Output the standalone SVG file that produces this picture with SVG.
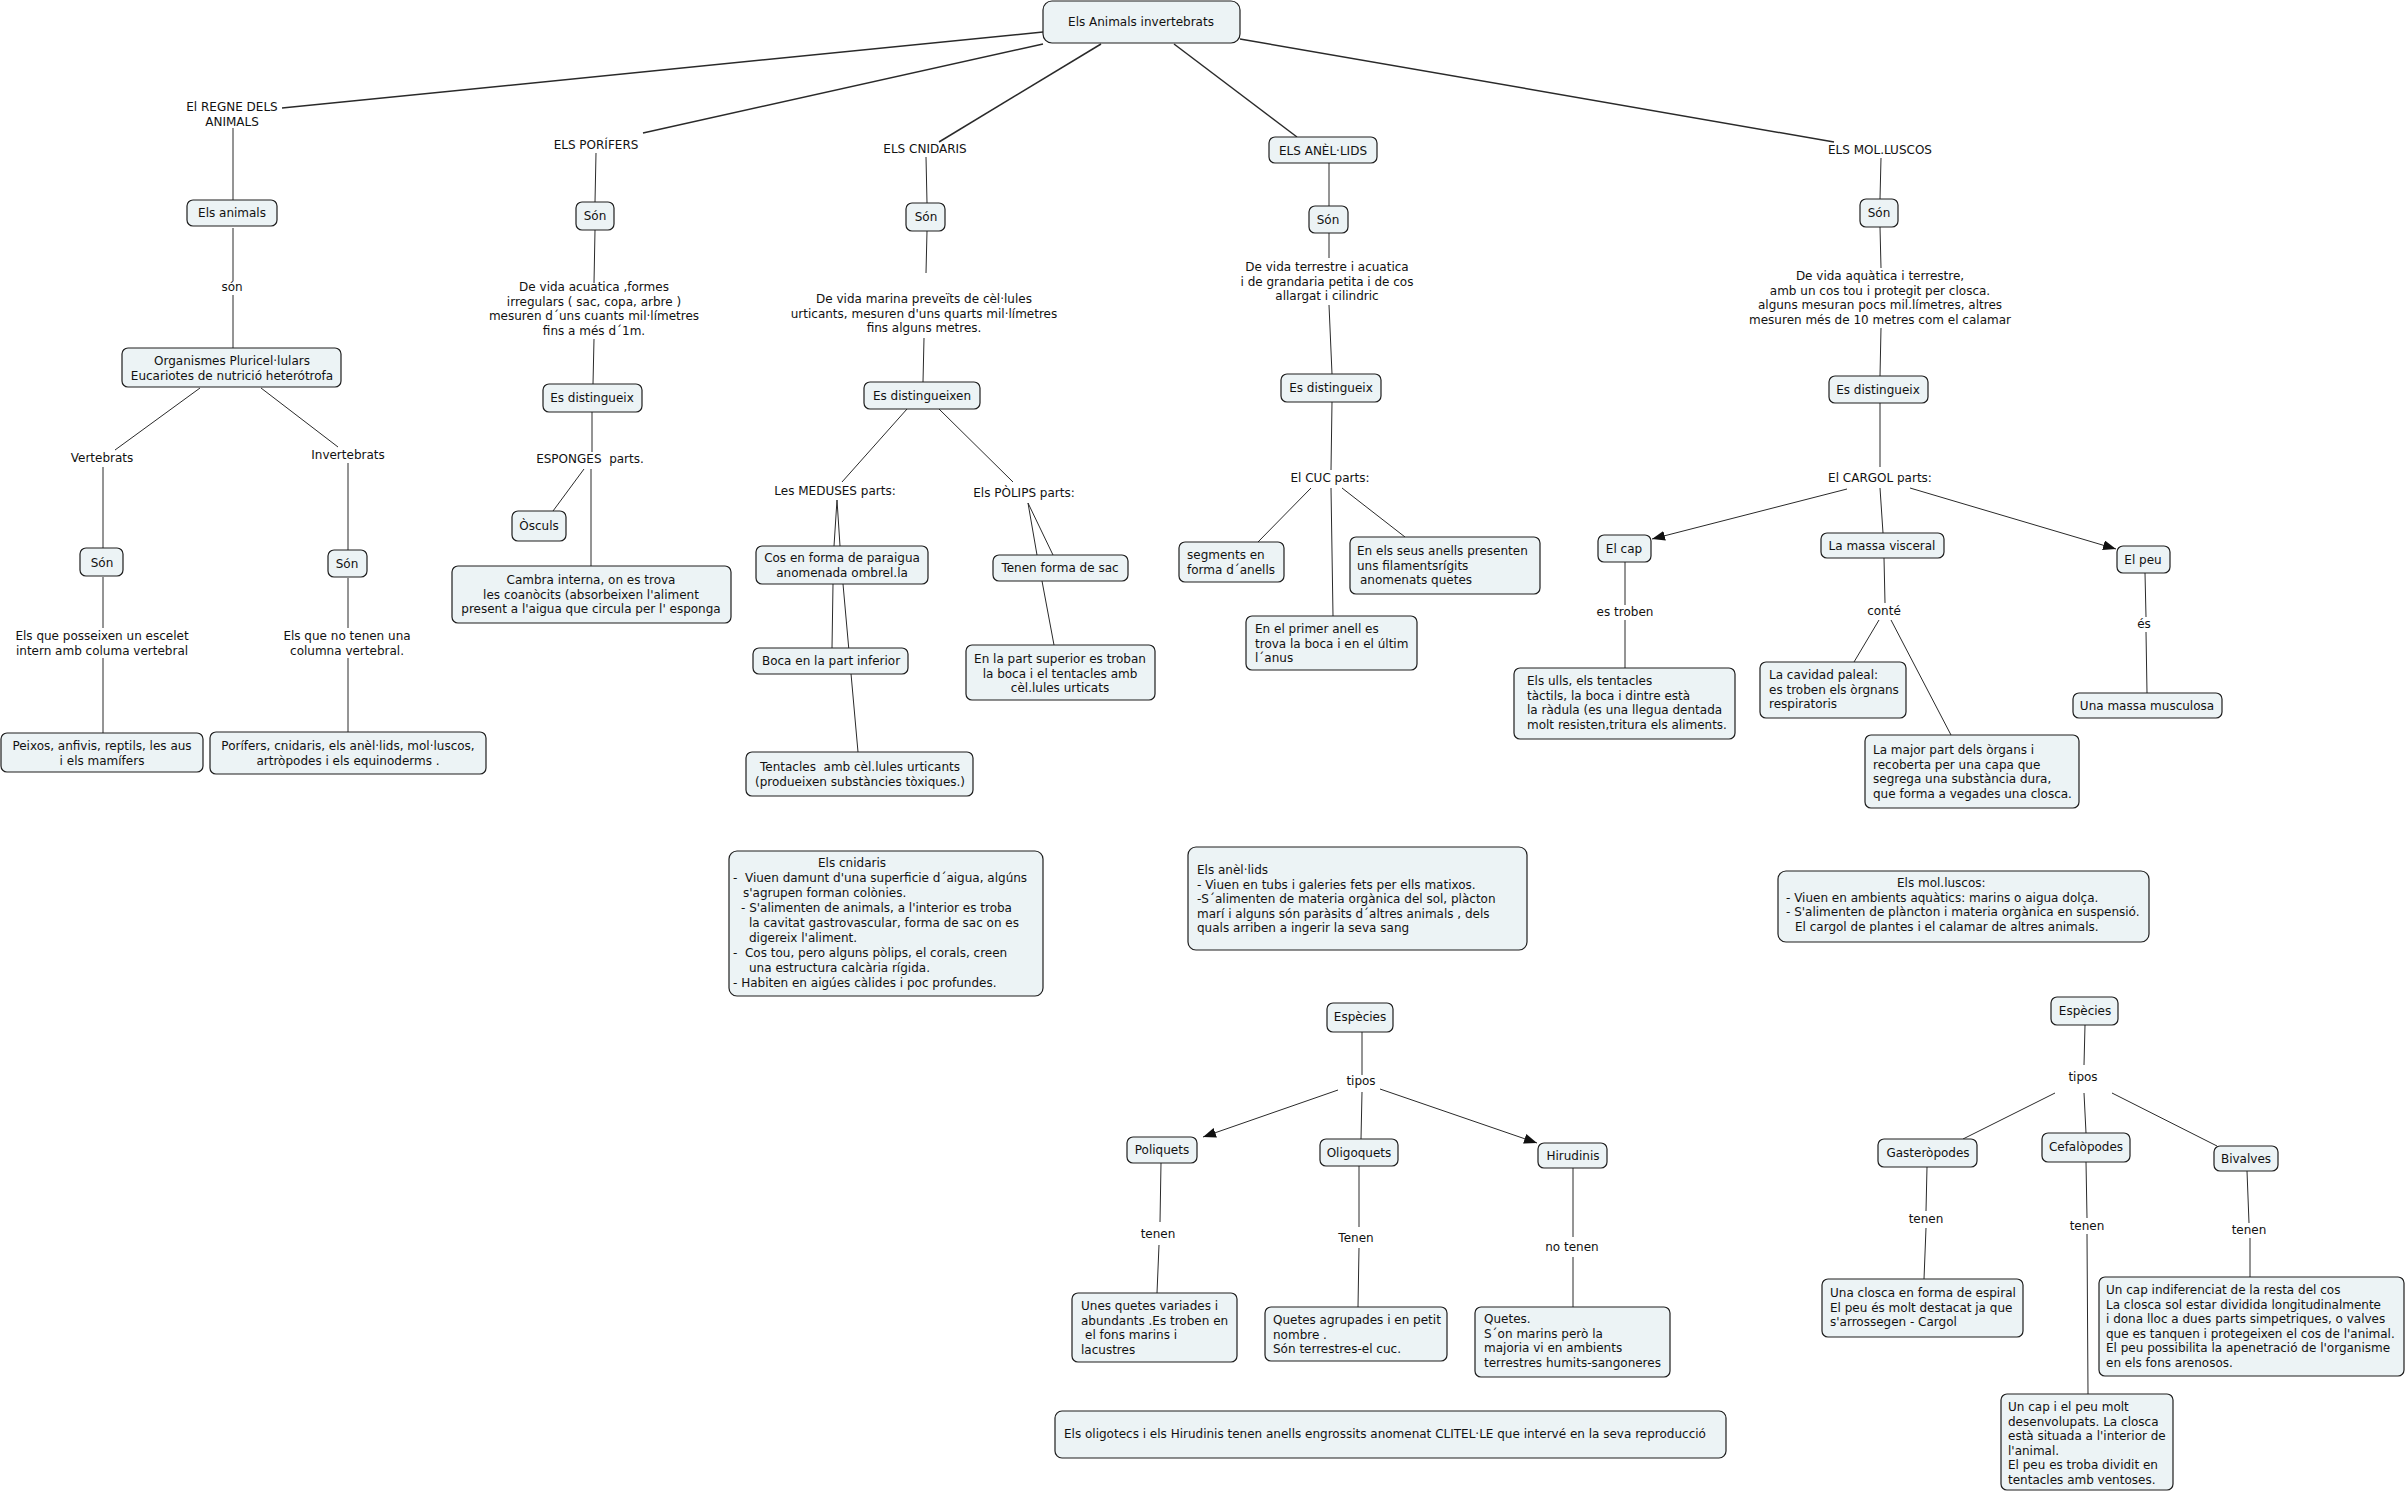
<svg xmlns="http://www.w3.org/2000/svg" width="2406" height="1495" viewBox="0 0 2406 1495">
<style>
.bg{fill:#ffffff}
.n rect{fill:#ecf3f5;stroke:#1e1e1e;stroke-width:1.2}
.t{font-family:"DejaVu Sans",Verdana,sans-serif;font-size:12px;fill:#111}
.c{text-anchor:middle}
#edges line{stroke:#2a2a2a;stroke-width:1}
#edges line.k{stroke-width:1.5}
#edges line.a{marker-end:url(#arr)}
</style>
<defs>
<marker id="arr" markerUnits="userSpaceOnUse" markerWidth="14" markerHeight="11" refX="13" refY="5" orient="auto">
<path d="M0,0 L13,5 L0,10 z" fill="#111"/>
</marker>
</defs>
<rect class="bg" x="0" y="0" width="2406" height="1495"/>
<g id="edges">
<line class="k" x1="1043" y1="32" x2="282" y2="108"/>
<line x1="233" y1="128" x2="233" y2="200"/>
<line x1="233" y1="228" x2="233" y2="281"/>
<line x1="233" y1="295" x2="233" y2="348"/>
<line x1="200" y1="388" x2="115" y2="450"/>
<line x1="261" y1="388" x2="338" y2="447"/>
<line x1="103" y1="467" x2="103" y2="548"/>
<line x1="103" y1="577" x2="103" y2="628"/>
<line x1="103" y1="658" x2="103" y2="733"/>
<line x1="348" y1="463" x2="348" y2="550"/>
<line x1="348" y1="578" x2="348" y2="628"/>
<line x1="348" y1="658" x2="348" y2="732"/>
<line class="k" x1="1043" y1="44" x2="643" y2="133"/>
<line x1="596" y1="153" x2="595" y2="202"/>
<line x1="595" y1="230" x2="594" y2="283"/>
<line x1="594" y1="339" x2="593" y2="384"/>
<line x1="592" y1="412" x2="592" y2="452"/>
<line x1="584" y1="469" x2="553" y2="511"/>
<line x1="591" y1="469" x2="591" y2="566"/>
<line class="k" x1="1101" y1="44" x2="939" y2="142"/>
<line x1="926" y1="157" x2="927" y2="203"/>
<line x1="927" y1="231" x2="926" y2="273"/>
<line x1="924" y1="338" x2="923" y2="382"/>
<line x1="907" y1="409" x2="842" y2="482"/>
<line x1="939" y1="409" x2="1013" y2="482"/>
<line x1="837" y1="500" x2="834" y2="546"/>
<line x1="837" y1="500" x2="840" y2="546"/>
<line x1="833" y1="584" x2="832" y2="648"/>
<line x1="843" y1="584" x2="858" y2="752"/>
<line x1="1028" y1="503" x2="1037" y2="555"/>
<line x1="1028" y1="503" x2="1053" y2="555"/>
<line x1="1042" y1="581" x2="1054" y2="645"/>
<line class="k" x1="1174" y1="44" x2="1297" y2="137"/>
<line x1="1329" y1="163" x2="1329" y2="206"/>
<line x1="1329" y1="233" x2="1329" y2="258"/>
<line x1="1329" y1="305" x2="1332" y2="374"/>
<line x1="1332" y1="402" x2="1331" y2="470"/>
<line x1="1311" y1="488" x2="1258" y2="542"/>
<line x1="1331" y1="488" x2="1333" y2="616"/>
<line x1="1342" y1="488" x2="1405" y2="537"/>
<line class="k" x1="1240" y1="39" x2="1834" y2="142"/>
<line x1="1881" y1="158" x2="1880" y2="199"/>
<line x1="1880" y1="227" x2="1881" y2="268"/>
<line x1="1881" y1="328" x2="1880" y2="376"/>
<line x1="1880" y1="403" x2="1880" y2="467"/>
<line class="a" x1="1847" y1="489" x2="1652" y2="539"/>
<line x1="1880" y1="488" x2="1883" y2="533"/>
<line class="a" x1="1910" y1="488" x2="2116" y2="549"/>
<line x1="1625" y1="562" x2="1625" y2="605"/>
<line x1="1625" y1="620" x2="1625" y2="668"/>
<line x1="1884" y1="558" x2="1885" y2="603"/>
<line x1="1879" y1="620" x2="1854" y2="662"/>
<line x1="1891" y1="620" x2="1951" y2="735"/>
<line x1="2145" y1="573" x2="2146" y2="617"/>
<line x1="2146" y1="632" x2="2147" y2="693"/>
<line x1="1362" y1="1032" x2="1362" y2="1075"/>
<line class="a" x1="1338" y1="1090" x2="1203" y2="1137"/>
<line x1="1362" y1="1092" x2="1361" y2="1139"/>
<line class="a" x1="1380" y1="1089" x2="1537" y2="1143"/>
<line x1="1161" y1="1163" x2="1160" y2="1222"/>
<line x1="1159" y1="1245" x2="1157" y2="1293"/>
<line x1="1359" y1="1166" x2="1359" y2="1227"/>
<line x1="1359" y1="1248" x2="1358" y2="1307"/>
<line x1="1573" y1="1168" x2="1573" y2="1237"/>
<line x1="1573" y1="1257" x2="1573" y2="1307"/>
<line x1="2085" y1="1025" x2="2084" y2="1065"/>
<line x1="2055" y1="1093" x2="1963" y2="1139"/>
<line x1="2084" y1="1093" x2="2086" y2="1133"/>
<line x1="2112" y1="1093" x2="2217" y2="1146"/>
<line x1="1927" y1="1167" x2="1926" y2="1211"/>
<line x1="1926" y1="1228" x2="1924" y2="1279"/>
<line x1="2086" y1="1162" x2="2087" y2="1218"/>
<line x1="2087" y1="1234" x2="2088" y2="1394"/>
<line x1="2247" y1="1171" x2="2249" y2="1223"/>
<line x1="2250" y1="1238" x2="2250" y2="1277"/>
</g>

<g id="root" class="n"><rect x="1043" y="1" width="197" height="42" rx="9"/><text class="t c" x="1141" y="26">Els Animals invertebrats</text></g>

<g id="regne"><text class="t c" x="232" y="111">El REGNE DELS<tspan x="232" dy="14.5">ANIMALS</tspan></text></g>
<g id="animals" class="n"><rect x="187" y="200" width="90" height="26" rx="6"/><text class="t c" x="232" y="217">Els animals</text></g>
<g id="son0"><text class="t c" x="232" y="291">són</text></g>
<g id="organismes" class="n"><rect x="122" y="348" width="219" height="39" rx="6"/><text class="t c" x="232" y="365">Organismes Pluricel·lulars<tspan x="232" dy="14.5">Eucariotes de nutrició heterótrofa</tspan></text></g>
<g id="vertebrats"><text class="t c" x="102" y="462">Vertebrats</text></g>
<g id="invertebrats"><text class="t c" x="348" y="459">Invertebrats</text></g>
<g id="sonV" class="n"><rect x="80" y="548" width="43" height="28" rx="6"/><text class="t c" x="102" y="567">Són</text></g>
<g id="sonI" class="n"><rect x="328" y="550" width="39" height="27" rx="6"/><text class="t c" x="347" y="568">Són</text></g>
<g id="vertTxt"><text class="t c" x="102" y="640">Els que posseixen un escelet<tspan x="102" dy="14.5">intern amb columa vertebral</tspan></text></g>
<g id="invTxt"><text class="t c" x="347" y="640">Els que no tenen una<tspan x="347" dy="14.5">columna vertebral.</tspan></text></g>
<g id="peixos" class="n"><rect x="1" y="733" width="202" height="39" rx="6"/><text class="t c" x="102" y="750">Peixos, anfivis, reptils, les aus<tspan x="102" dy="14.5">i els mamífers</tspan></text></g>
<g id="porifersList" class="n"><rect x="210" y="732" width="276" height="42" rx="6"/><text class="t c" x="348" y="750">Porífers, cnidaris, els anèl·lids, mol·luscos,<tspan x="348" dy="14.5">artròpodes i els equinoderms .</tspan></text></g>

<g id="porifers"><text class="t c" x="596" y="149">ELS PORÍFERS</text></g>
<g id="sonP" class="n"><rect x="576" y="202" width="38" height="28" rx="6"/><text class="t c" x="595" y="220">Són</text></g>
<g id="porTxt"><text class="t c" x="594" y="291">De vida acuatica ,formes<tspan x="594" dy="14.5">irregulars ( sac, copa, arbre )</tspan><tspan x="594" dy="14.5">mesuren d´uns cuants mil·límetres</tspan><tspan x="594" dy="14.5">fins a més d´1m.</tspan></text></g>
<g id="esdP" class="n"><rect x="543" y="384" width="99" height="28" rx="6"/><text class="t c" x="592" y="402">Es distingueix</text></g>
<g id="esponges"><text class="t c" x="590" y="463" xml:space="preserve">ESPONGES  parts.</text></g>
<g id="osculs" class="n"><rect x="512" y="511" width="54" height="30" rx="6"/><text class="t c" x="539" y="530">Òsculs</text></g>
<g id="cambra" class="n"><rect x="452" y="566" width="279" height="57" rx="6"/><text class="t c" x="591" y="584">Cambra interna, on es trova<tspan x="591" dy="14.5">les coanòcits (absorbeixen l'aliment</tspan><tspan x="591" dy="14.5">present a l'aigua que circula per l' esponga</tspan></text></g>

<g id="cnidaris"><text class="t c" x="925" y="153">ELS CNIDARIS</text></g>
<g id="sonC" class="n"><rect x="906" y="203" width="39" height="28" rx="6"/><text class="t c" x="926" y="221">Són</text></g>
<g id="cniTxt"><text class="t c" x="924" y="303">De vida marina preveïts de cèl·lules<tspan x="924" dy="14.5">urticants, mesuren d'uns quarts mil·límetres</tspan><tspan x="924" dy="14.5">fins alguns metres.</tspan></text></g>
<g id="esdC" class="n"><rect x="864" y="382" width="116" height="27" rx="6"/><text class="t c" x="922" y="400">Es distingueixen</text></g>
<g id="meduses"><text class="t c" x="835" y="495">Les MEDUSES parts:</text></g>
<g id="polips"><text class="t c" x="1024" y="497">Els PÒLIPS parts:</text></g>
<g id="cos" class="n"><rect x="756" y="546" width="172" height="38" rx="6"/><text class="t c" x="842" y="562">Cos en forma de paraigua<tspan x="842" dy="14.5">anomenada ombrel.la</tspan></text></g>
<g id="boca" class="n"><rect x="753" y="648" width="155" height="26" rx="6"/><text class="t c" x="831" y="665">Boca en la part inferior</text></g>
<g id="tentacles" class="n"><rect x="746" y="752" width="227" height="44" rx="6"/><text class="t c" x="860" y="771" xml:space="preserve">Tentacles  amb cèl.lules urticants<tspan x="860" dy="14.5">(produeixen substàncies tòxiques.)</tspan></text></g>
<g id="sac" class="n"><rect x="993" y="555" width="135" height="26" rx="6"/><text class="t c" x="1060" y="572">Tenen forma de sac</text></g>
<g id="partsup" class="n"><rect x="966" y="645" width="189" height="55" rx="6"/><text class="t c" x="1060" y="663">En la part superior es troban<tspan x="1060" dy="14.5">la boca i el tentacles amb</tspan><tspan x="1060" dy="14.5">cèl.lules urticats</tspan></text></g>

<g id="anellids" class="n"><rect x="1269" y="137" width="108" height="26" rx="6"/><text class="t c" x="1323" y="155">ELS ANÈL·LIDS</text></g>
<g id="sonA" class="n"><rect x="1309" y="206" width="39" height="27" rx="6"/><text class="t c" x="1328" y="224">Són</text></g>
<g id="aneTxt"><text class="t c" x="1327" y="271">De vida terrestre i acuatica<tspan x="1327" dy="14.5">i de grandaria petita i de cos</tspan><tspan x="1327" dy="14.5">allargat i cilindric</tspan></text></g>
<g id="esdA" class="n"><rect x="1281" y="374" width="100" height="28" rx="6"/><text class="t c" x="1331" y="392">Es distingueix</text></g>
<g id="cuc"><text class="t c" x="1330" y="482">El CUC parts:</text></g>
<g id="segments" class="n"><rect x="1179" y="542" width="105" height="40" rx="6"/><text class="t" x="1187" y="559">segments en<tspan x="1187" dy="14.5">forma d´anells</tspan></text></g>
<g id="primer" class="n"><rect x="1246" y="616" width="171" height="54" rx="6"/><text class="t" x="1255" y="633">En el primer anell es<tspan x="1255" dy="14.5">trova la boca i en el últim</tspan><tspan x="1255" dy="14.5">l´anus</tspan></text></g>
<g id="seus" class="n"><rect x="1350" y="537" width="190" height="57" rx="6"/><text class="t" x="1357" y="555">En els seus anells presenten<tspan x="1357" dy="14.5">uns filamentsrígits</tspan><tspan x="1360" dy="14.5">anomenats quetes</tspan></text></g>

<g id="molluscs"><text class="t c" x="1880" y="154">ELS MOL.LUSCOS</text></g>
<g id="sonM" class="n"><rect x="1860" y="199" width="38" height="28" rx="6"/><text class="t c" x="1879" y="217">Són</text></g>
<g id="molTxt"><text class="t c" x="1880" y="280">De vida aquàtica i terrestre,<tspan x="1880" dy="14.5">amb un cos tou i protegit per closca.</tspan><tspan x="1880" dy="14.5">alguns mesuran pocs mil.límetres, altres</tspan><tspan x="1880" dy="14.5">mesuren més de 10 metres com el calamar</tspan></text></g>
<g id="esdM" class="n"><rect x="1829" y="376" width="99" height="27" rx="6"/><text class="t c" x="1878" y="394">Es distingueix</text></g>
<g id="cargol"><text class="t c" x="1880" y="482">El CARGOL parts:</text></g>
<g id="cap" class="n"><rect x="1598" y="535" width="53" height="27" rx="6"/><text class="t c" x="1624" y="553">El cap</text></g>
<g id="visceral" class="n"><rect x="1821" y="533" width="123" height="25" rx="6"/><text class="t c" x="1882" y="550">La massa visceral</text></g>
<g id="peu" class="n"><rect x="2117" y="546" width="53" height="27" rx="6"/><text class="t c" x="2143" y="564">El peu</text></g>
<g id="estroben"><text class="t c" x="1625" y="616">es troben</text></g>
<g id="ulls" class="n"><rect x="1514" y="668" width="221" height="71" rx="6"/><text class="t" x="1527" y="685">Els ulls, els tentacles<tspan x="1527" dy="14.5">tàctils, la boca i dintre està</tspan><tspan x="1527" dy="14.5">la ràdula (es una llegua dentada</tspan><tspan x="1527" dy="14.5">molt resisten,tritura els aliments.</tspan></text></g>
<g id="conte"><text class="t c" x="1884" y="615">conté</text></g>
<g id="paleal" class="n"><rect x="1760" y="662" width="146" height="56" rx="6"/><text class="t" x="1769" y="679">La cavidad paleal:<tspan x="1769" dy="14.5">es troben els òrgnans</tspan><tspan x="1769" dy="14.5">respiratoris</tspan></text></g>
<g id="major" class="n"><rect x="1865" y="735" width="214" height="73" rx="6"/><text class="t" x="1873" y="754">La major part dels òrgans i<tspan x="1873" dy="14.5">recoberta per una capa que</tspan><tspan x="1873" dy="14.5">segrega una substància dura,</tspan><tspan x="1873" dy="14.5">que forma a vegades una closca.</tspan></text></g>
<g id="es"><text class="t c" x="2144" y="628">és</text></g>
<g id="musculosa" class="n"><rect x="2073" y="693" width="149" height="25" rx="6"/><text class="t c" x="2147" y="710">Una massa musculosa</text></g>

<g id="infoCni" class="n"><rect x="729" y="851" width="314" height="145" rx="8"/><text class="t" x="818" y="867" xml:space="preserve">Els cnidaris<tspan x="733" dy="15">-  Viuen damunt d'una superficie d´aigua, algúns</tspan><tspan x="743" dy="15">s'agrupen forman colònies.</tspan><tspan x="741" dy="15">- S'alimenten de animals, a l'interior es troba</tspan><tspan x="749" dy="15">la cavitat gastrovascular, forma de sac on es</tspan><tspan x="749" dy="15">digereix l'aliment.</tspan><tspan x="733" dy="15">-  Cos tou, pero alguns pòlips, el corals, creen</tspan><tspan x="749" dy="15">una estructura calcària rígida.</tspan><tspan x="733" dy="14.5">- Habiten en aigúes càlides i poc profundes.</tspan></text></g>
<g id="infoAne" class="n"><rect x="1188" y="847" width="339" height="103" rx="8"/><text class="t" x="1197" y="874">Els anèl·lids<tspan x="1197" dy="14.6">- Viuen en tubs i galeries fets per ells matixos.</tspan><tspan x="1197" dy="14.6">-S´alimenten de materia orgànica del sol, plàcton</tspan><tspan x="1197" dy="14.6">marí i alguns són paràsits d´altres animals , dels</tspan><tspan x="1197" dy="14.6">quals arriben a ingerir la seva sang</tspan></text></g>
<g id="infoMol" class="n"><rect x="1778" y="871" width="371" height="71" rx="8"/><text class="t" x="1897" y="887">Els mol.luscos:<tspan x="1786" dy="14.7">- Viuen en ambients aquàtics: marins o aigua dolça.</tspan><tspan x="1786" dy="14.7">- S'alimenten de plàncton i materia orgànica en suspensió.</tspan><tspan x="1795" dy="14.7">El cargol de plantes i el calamar de altres animals.</tspan></text></g>

<g id="especiesA" class="n"><rect x="1327" y="1003" width="66" height="29" rx="6"/><text class="t c" x="1360" y="1021">Espècies</text></g>
<g id="tiposA"><text class="t c" x="1361" y="1085">tipos</text></g>
<g id="poliquets" class="n"><rect x="1127" y="1137" width="70" height="26" rx="6"/><text class="t c" x="1162" y="1154">Poliquets</text></g>
<g id="oligoquets" class="n"><rect x="1320" y="1139" width="78" height="27" rx="6"/><text class="t c" x="1359" y="1157">Oligoquets</text></g>
<g id="hirudinis" class="n"><rect x="1538" y="1143" width="69" height="25" rx="6"/><text class="t c" x="1573" y="1160">Hirudinis</text></g>
<g id="tenen1"><text class="t c" x="1158" y="1238">tenen</text></g>
<g id="tenen2"><text class="t c" x="1356" y="1242">Tenen</text></g>
<g id="notenen"><text class="t c" x="1572" y="1251">no tenen</text></g>
<g id="unes" class="n"><rect x="1072" y="1293" width="165" height="69" rx="6"/><text class="t" x="1081" y="1310">Unes quetes variades i<tspan x="1081" dy="14.5">abundants .Es troben en</tspan><tspan x="1085" dy="14.5">el fons marins i</tspan><tspan x="1081" dy="14.5">lacustres</tspan></text></g>
<g id="agrupades" class="n"><rect x="1265" y="1307" width="182" height="54" rx="6"/><text class="t" x="1273" y="1324">Quetes agrupades i en petit<tspan x="1273" dy="14.5">nombre .</tspan><tspan x="1273" dy="14.5">Són terrestres-el cuc.</tspan></text></g>
<g id="quetes" class="n"><rect x="1475" y="1307" width="195" height="70" rx="6"/><text class="t" x="1484" y="1323">Quetes.<tspan x="1484" dy="14.5">S´on marins però la</tspan><tspan x="1484" dy="14.5">majoria vi en ambients</tspan><tspan x="1484" dy="14.5">terrestres humits-sangoneres</tspan></text></g>
<g id="clitele" class="n"><rect x="1055" y="1411" width="671" height="47" rx="7"/><text class="t" x="1064" y="1438">Els oligotecs i els Hirudinis tenen anells engrossits anomenat CLITEL·LE que intervé en la seva reproducció</text></g>

<g id="especiesM" class="n"><rect x="2051" y="997" width="67" height="28" rx="6"/><text class="t c" x="2085" y="1015">Espècies</text></g>
<g id="tiposM"><text class="t c" x="2083" y="1081">tipos</text></g>
<g id="gasteropodes" class="n"><rect x="1878" y="1139" width="99" height="28" rx="6"/><text class="t c" x="1928" y="1157">Gasteròpodes</text></g>
<g id="cefalopodes" class="n"><rect x="2042" y="1133" width="88" height="29" rx="6"/><text class="t c" x="2086" y="1151">Cefalòpodes</text></g>
<g id="bivalves" class="n"><rect x="2214" y="1146" width="64" height="25" rx="6"/><text class="t c" x="2246" y="1163">Bivalves</text></g>
<g id="tenenG"><text class="t c" x="1926" y="1223">tenen</text></g>
<g id="tenenC"><text class="t c" x="2087" y="1230">tenen</text></g>
<g id="tenenB"><text class="t c" x="2249" y="1234">tenen</text></g>
<g id="closca" class="n"><rect x="1822" y="1279" width="201" height="58" rx="6"/><text class="t" x="1830" y="1297">Una closca en forma de espiral<tspan x="1830" dy="14.5">El peu és molt destacat ja que</tspan><tspan x="1830" dy="14.5">s'arrossegen - Cargol</tspan></text></g>
<g id="capPeu" class="n"><rect x="2001" y="1394" width="172" height="96" rx="6"/><text class="t" x="2008" y="1411">Un cap i el peu molt<tspan x="2008" dy="14.6">desenvolupats. La closca</tspan><tspan x="2008" dy="14.6">està situada a l'interior de</tspan><tspan x="2008" dy="14.6">l'animal.</tspan><tspan x="2008" dy="14.6">El peu es troba dividit en</tspan><tspan x="2008" dy="14.6">tentacles amb ventoses.</tspan></text></g>
<g id="indiferenciat" class="n"><rect x="2099" y="1277" width="305" height="99" rx="6"/><text class="t" x="2106" y="1294">Un cap indiferenciat de la resta del cos<tspan x="2106" dy="14.6">La closca sol estar dividida longitudinalmente</tspan><tspan x="2106" dy="14.6">i dona lloc a dues parts simpetriques, o valves</tspan><tspan x="2106" dy="14.6">que es tanquen i protegeixen el cos de l'animal.</tspan><tspan x="2106" dy="14.6">El peu possibilita la apenetració de l'organisme</tspan><tspan x="2106" dy="14.6">en els fons arenosos.</tspan></text></g>
</svg>
